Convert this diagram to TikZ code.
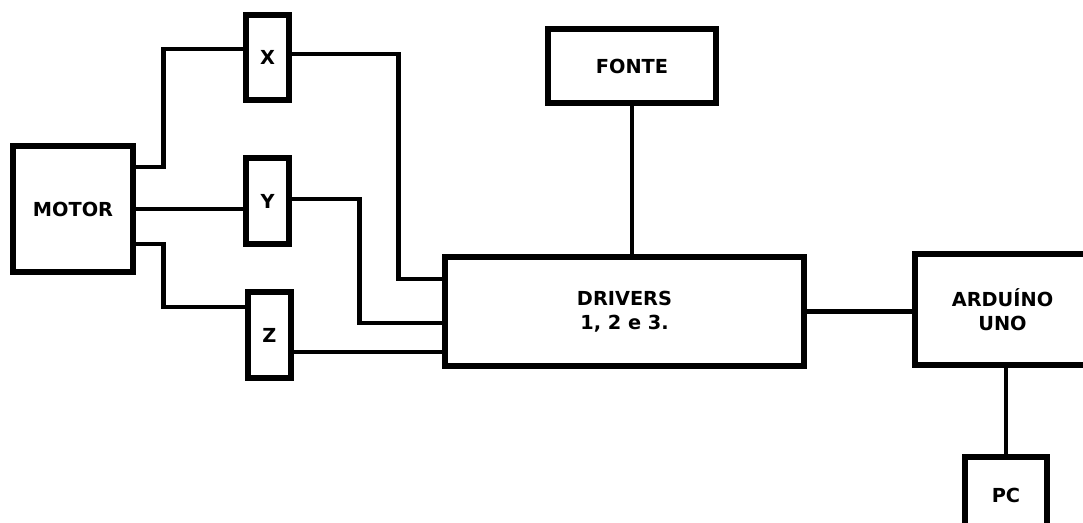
\documentclass[tikz,border=0pt]{standalone}
\usepackage{fontspec}
\setsansfont{DejaVu Sans}

\begin{document}
\begin{tikzpicture}[x=0.02cm,y=-0.02cm,
  box/.style={draw,line width=3.3pt,align=center,font=\sffamily\bfseries\fontsize{11}{13.5}\selectfont},
  wire/.style={line width=2.8pt}]
\useasboundingbox (0,0) rectangle (1083,523);
\node[box,minimum width=2.4cm,minimum height=2.52cm] (motor) at (73,209) {MOTOR};
\node[box,minimum width=0.86cm,minimum height=1.7cm] (xax) at (267.5,57.5) {X};
\node[box,minimum width=0.86cm,minimum height=1.72cm] (yax) at (267.5,201) {Y};
\node[box,minimum width=0.86cm,minimum height=1.72cm] (zax) at (269.5,335) {Z};
\node[box,minimum width=3.36cm,minimum height=1.48cm] (fonte) at (632,66) {FONTE};
\node[box,minimum width=7.18cm,minimum height=2.18cm] (drv) at (624.5,311.5) {DRIVERS\\1, 2 e 3.};
\node[box,minimum width=3.5cm,minimum height=2.22cm] (ard) at (1002.5,309.5) {ARDUÍNO\\UNO};
\node[box,minimum width=1.64cm,minimum height=1.52cm] (pc) at (1006,495) {PC};
% motor to the three axes
\draw[wire] ([yshift=0.84cm]motor.east) -- ++(28,0) |- ([yshift=0.17cm]xax.west);
\draw[wire] (motor.east) -- (motor.east -| yax.west);
\draw[wire] ([yshift=-0.7cm]motor.east) -- ++(28,0) |- ([yshift=0.56cm]zax.west);
% axes to drivers
\draw[wire] ([yshift=0.07cm]xax.east) -- ++(107,0) |- ([yshift=0.65cm]drv.west);
\draw[wire] ([yshift=0.04cm]yax.east) -- ++(68,0) |- ([yshift=-0.23cm]drv.west);
\draw[wire] ([yshift=-0.34cm]zax.east) -- ([yshift=-0.34cm]zax.east -| drv.west);
\draw[wire] (fonte) -- (fonte.south |- drv.north);
\draw[wire] (drv.east) -- (drv.east -| ard.west);
\draw[wire] (pc.north |- ard.south) -- (pc.north);
\end{tikzpicture}
\end{document}
